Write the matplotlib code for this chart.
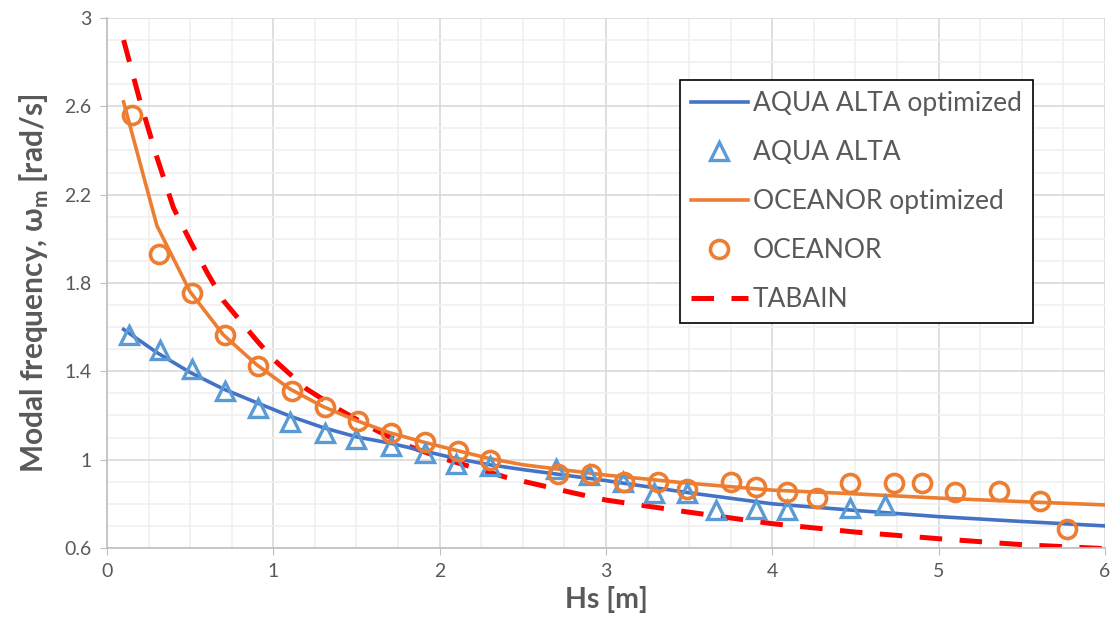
import matplotlib
matplotlib.use("Agg")
import matplotlib.pyplot as plt
from matplotlib.ticker import MultipleLocator

plt.rcParams['font.family'] = ['Lato', 'DejaVu Sans']
plt.rcParams['mathtext.fontset'] = 'custom'
plt.rcParams['mathtext.rm'] = 'Lato'
plt.rcParams['mathtext.bf'] = 'Lato:bold'

# fitted curves
aqua_opt_x = [0.1, 0.3, 0.5, 0.7, 0.9, 1.1, 1.3, 1.5, 1.7, 1.9, 2.1, 2.3, 2.5, 3.0, 3.5, 4.0, 4.5, 5.0, 5.5, 6.0]
aqua_opt_y = [1.59, 1.485, 1.395, 1.32, 1.258, 1.197, 1.145, 1.103, 1.075, 1.04, 1.005, 0.977, 0.955, 0.905, 0.85, 0.80, 0.77, 0.742, 0.72, 0.70]

oce_opt_x = [0.1, 0.3, 0.5, 0.7, 0.9, 1.1, 1.3, 1.5, 1.7, 1.9, 2.1, 2.3, 2.5, 3.0, 3.5, 4.0, 4.5, 5.0, 5.5, 6.0]
oce_opt_y = [2.62, 2.06, 1.76, 1.565, 1.43, 1.32, 1.24, 1.177, 1.122, 1.08, 1.042, 1.005, 0.977, 0.93, 0.893, 0.862, 0.845, 0.826, 0.81, 0.795]

tabain_x = [0.1, 0.2, 0.3, 0.4, 0.5, 0.6, 0.7, 0.8, 0.9, 1.0, 1.2, 1.4, 1.6, 1.8, 2.0, 2.4, 2.8, 3.0, 3.5, 4.0, 4.5, 5.0, 5.5, 6.0]
tabain_y = [2.90, 2.62, 2.37, 2.14, 1.99, 1.85, 1.72, 1.63, 1.54, 1.455, 1.32, 1.225, 1.14, 1.065, 1.01, 0.92, 0.85, 0.817, 0.762, 0.71, 0.672, 0.642, 0.615, 0.597]

# measured points
aqua_x = [0.13, 0.32, 0.51, 0.71, 0.91, 1.10, 1.31, 1.50, 1.71, 1.91, 2.10, 2.30, 2.70, 2.90, 3.10, 3.29, 3.49, 3.66, 3.90, 4.09, 4.47, 4.68]
aqua_y = [1.565, 1.495, 1.41, 1.31, 1.232, 1.17, 1.122, 1.093, 1.06, 1.03, 0.982, 0.972, 0.958, 0.93, 0.90, 0.847, 0.847, 0.774, 0.778, 0.772, 0.78, 0.795]

oce_x = [0.15, 0.31, 0.51, 0.71, 0.91, 1.11, 1.31, 1.51, 1.71, 1.91, 2.11, 2.30, 2.71, 2.91, 3.11, 3.31, 3.49,
         3.75, 3.90, 4.09, 4.27, 4.47, 4.73, 4.90, 5.10, 5.36, 5.61, 5.77]
oce_y = [2.56, 1.93, 1.753, 1.563, 1.425, 1.313, 1.237, 1.176, 1.12, 1.081, 1.04, 1.0, 0.935, 0.935, 0.897, 0.898, 0.868,
         0.90, 0.877, 0.855, 0.828, 0.893, 0.893, 0.893, 0.853, 0.857, 0.814, 0.685]

grey = "#595959"

fig = plt.figure(figsize=(11.13, 6.36), dpi=100)
ax = fig.add_axes([0.0961, 0.1384, 0.8967, 0.8333])

ax.plot(aqua_opt_x, aqua_opt_y, color="#4472C4", lw=2.6, label="AQUA ALTA optimized", zorder=3)
ax.plot(aqua_x, aqua_y, ls="none", marker="^", ms=12.5, mfc="none", mec="#5B9BD5", mew=2.4,
        label="AQUA ALTA", zorder=4)
ax.plot(oce_opt_x, oce_opt_y, color="#ED7D31", lw=2.6, label="OCEANOR optimized", zorder=3)
ax.plot(oce_x, oce_y, ls="none", marker="o", ms=13, mfc="none", mec="#ED7D31", mew=2.6,
        label="OCEANOR", zorder=5)
ax.plot(tabain_x, tabain_y, color="#FF0000", lw=3.6, ls=(0, (4.5, 3.5)), label="TABAIN", zorder=2)

ax.set_xlim(0, 6)
ax.set_ylim(0.6, 3)
ax.xaxis.set_major_locator(MultipleLocator(1))
ax.xaxis.set_minor_locator(MultipleLocator(0.25))
ax.yaxis.set_minor_locator(MultipleLocator(0.1))
ax.set_yticks([0.6, 1.0, 1.4, 1.8, 2.2, 2.6, 3.0])
ax.set_yticklabels(["0.6", "1", "1.4", "1.8", "2.2", "2.6", "3"])

ax.grid(which="major", color="#D9D9D9", lw=1.2)
ax.grid(which="minor", color="#F0F0F0", lw=1.2)
ax.set_axisbelow(True)

for s in ["top", "right"]:
    ax.spines[s].set_visible(False)
for s in ["left", "bottom"]:
    ax.spines[s].set_color("#BFBFBF")
    ax.spines[s].set_linewidth(1.2)
ax.tick_params(which="major", length=5, color="#BFBFBF", labelsize=14, labelcolor=grey, pad=6)
ax.tick_params(which="minor", length=0)

ax.set_xlabel("Hs [m]", fontsize=20.5, fontweight="bold", color=grey, labelpad=4)
ax.set_ylabel(r"Modal frequency, ω$_{\mathbf{m}}$ [rad/s]", fontsize=21.5, fontweight="bold",
              color=grey, labelpad=10)

leg = ax.legend(loc="upper left", bbox_to_anchor=(0.574, 0.883), borderaxespad=0, fontsize=19,
                frameon=True, fancybox=False, edgecolor="black", framealpha=1,
                handlelength=2.15, handletextpad=0.2, labelspacing=0.91, borderpad=0.42)
leg.get_frame().set_linewidth(1.2)
for t in leg.get_texts():
    t.set_color(grey)

fig.savefig("out.png", dpi=100)
